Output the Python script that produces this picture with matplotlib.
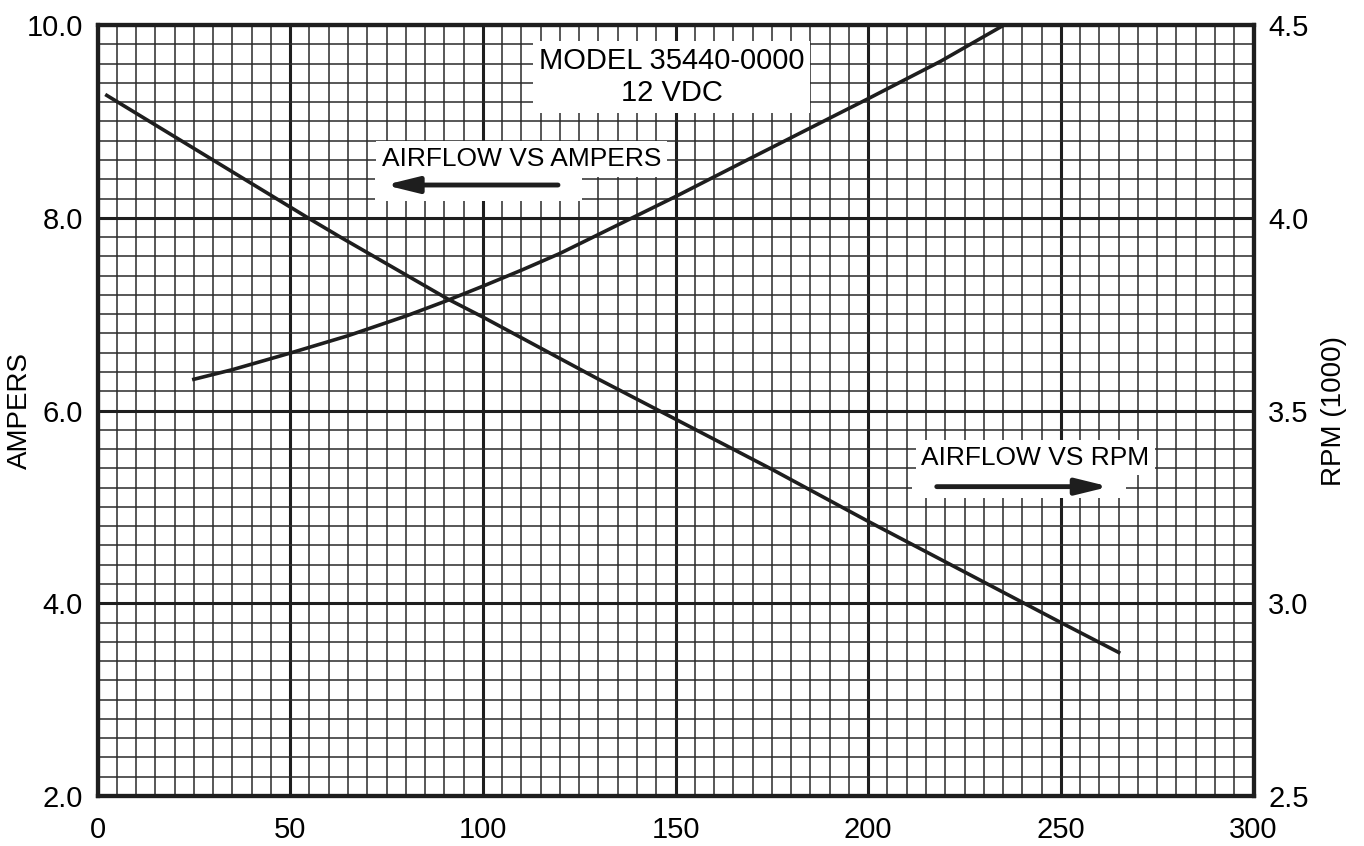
import matplotlib.pyplot as plt
from matplotlib.patches import Rectangle
from matplotlib.ticker import MultipleLocator, FormatStrFormatter

plt.rcParams["font.family"] = ["Liberation Sans", "DejaVu Sans"]

# airflow vs ampers (left axis)
amp_flow = [2.4, 25, 55, 63, 91, 100, 120, 130, 150, 175, 200, 220, 240, 250, 265]
amp_vals = [9.27, 8.72, 7.99, 7.80, 7.155, 6.97, 6.54, 6.325, 5.91, 5.39, 4.85, 4.43, 4.01, 3.80, 3.49]

# airflow vs rpm (right axis, x1000)
rpm_flow = [25, 35, 50, 65, 80, 90, 100, 110, 120, 138.3, 150, 168.6, 189.8, 200, 218.8, 234.8]
rpm_vals = [3.581, 3.606, 3.649, 3.694, 3.745, 3.7825, 3.8225, 3.864, 3.9075,
            3.9975, 4.055, 4.15, 4.2575, 4.309, 4.406, 4.4975]

x_ticks = [0, 50, 100, 150, 200, 250, 300]
amp_ticks = [2.0, 4.0, 6.0, 8.0, 10.0]
rpm_ticks = [2.5, 3.0, 3.5, 4.0, 4.5]

ink = "#1e1e1e"

fig = plt.figure(figsize=(13.64, 8.46), dpi=100)
ax = fig.add_axes([0.0715, 0.0591, 0.8475, 0.9113])

ax.set_xlim(0, 300)
ax.set_ylim(2.0, 10.0)
ax.set_xticks(x_ticks)
ax.set_yticks(amp_ticks)
ax.yaxis.set_major_formatter(FormatStrFormatter("%.1f"))
ax.xaxis.set_minor_locator(MultipleLocator(5))
ax.yaxis.set_minor_locator(MultipleLocator(0.2))
ax.set_axisbelow(True)
ax.grid(which="major", color=ink, linewidth=2.2)
ax.grid(which="minor", color="#2a2a2a", linewidth=1.1)
ax.tick_params(which="both", length=0, labelsize=21)
ax.tick_params(axis="y", pad=10.5)
ax.tick_params(axis="x", pad=14.5)
ax.set_ylabel("AMPERS", fontsize=20)
ax.yaxis.set_label_coords(-0.0558, 0.5)
for s in ax.spines.values():
    s.set_linewidth(3)
    s.set_color(ink)

ax.plot(amp_flow, amp_vals, color=ink, linewidth=2.6, zorder=2)

# labels on white boxes that knock out the grid
box = dict(facecolor="white", edgecolor="none", pad=4)
ax.text(149, 9.46, "MODEL 35440-0000\n12 VDC", ha="center", va="center",
        fontsize=21, linespacing=1.2, bbox=box, zorder=3)

ax.text(110, 8.61, "AIRFLOW VS AMPERS", ha="center", va="center",
        fontsize=19, bbox=box, zorder=3)
ax.add_patch(Rectangle((72, 8.17), 53.7, 0.26, facecolor="white",
                       edgecolor="none", zorder=2.5))
ax.annotate("", xy=(74.6, 8.34), xytext=(119.5, 8.34),
            arrowprops=dict(arrowstyle="-|>,head_length=1.3,head_width=0.32",
                            mutation_scale=15, lw=3.5, color=ink,
                            shrinkA=0, shrinkB=0), zorder=4)

ax.text(243.4, 5.51, "AIRFLOW VS RPM", ha="center", va="center",
        fontsize=19, bbox=box, zorder=3)
ax.add_patch(Rectangle((211.5, 5.09), 55.5, 0.25, facecolor="white",
                       edgecolor="none", zorder=2.5))
ax.annotate("", xy=(262.6, 5.21), xytext=(217.8, 5.21),
            arrowprops=dict(arrowstyle="-|>,head_length=1.3,head_width=0.32",
                            mutation_scale=15, lw=3.5, color=ink,
                            shrinkA=0, shrinkB=0), zorder=4)

ax2 = ax.twinx()
ax2.set_ylim(2.5, 4.5)
ax2.set_yticks(rpm_ticks)
ax2.yaxis.set_major_formatter(FormatStrFormatter("%.1f"))
ax2.tick_params(length=0, labelsize=21, pad=10.5)
ax2.set_ylabel("RPM (1000)", fontsize=20)
ax2.yaxis.set_label_coords(1.0584, 0.5)
for s in ax2.spines.values():
    s.set_linewidth(3)
    s.set_color(ink)
ax2.plot(rpm_flow, rpm_vals, color=ink, linewidth=2.6)

fig.savefig("out.png", dpi=100)
